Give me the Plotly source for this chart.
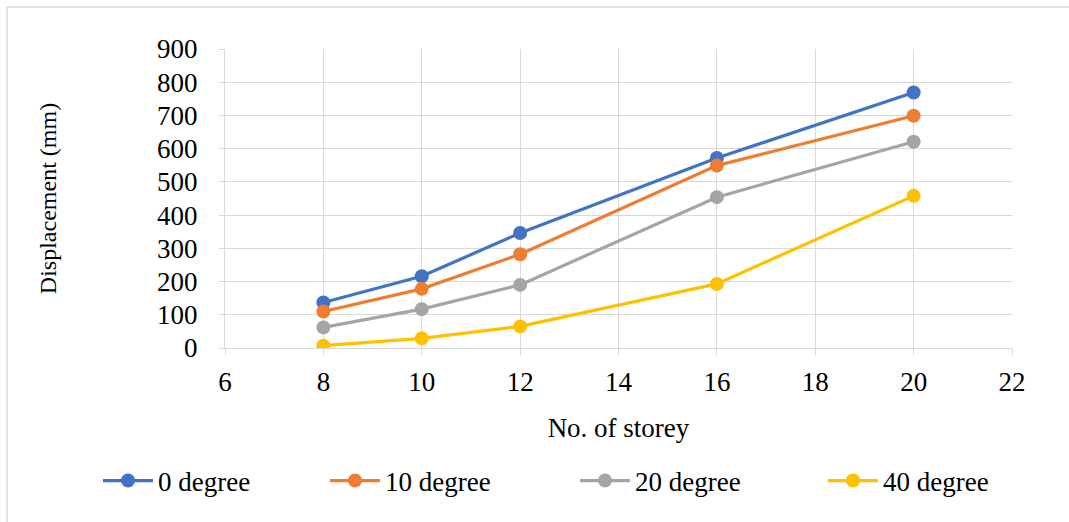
import plotly.graph_objects as go

# Storey counts and roof displacement (mm) for each inclination angle
storeys = [8, 10, 12, 16, 20]
disp_0deg = [137, 216, 346, 572, 769]
disp_10deg = [110, 178, 282, 549, 699]
disp_20deg = [62, 117, 190, 454, 621]
disp_40deg = [7, 29, 65, 193, 458]

series_names = ["0 degree", "10 degree", "20 degree", "40 degree"]
series_values = [disp_0deg, disp_10deg, disp_20deg, disp_40deg]
series_colors = ["#4472C4", "#ED7D31", "#A5A5A5", "#FFC000"]

y_ticks = [0, 100, 200, 300, 400, 500, 600, 700, 800, 900]
x_ticks = [6, 8, 10, 12, 14, 16, 18, 20, 22]

font_family = "Liberation Serif"
grid = "#D9D9D9"
txt = 27

# one legend box per series so the entries sit on a single row
legend_ids = ["legend", "legend2", "legend3", "legend4"]
legend_left_px = [98, 325, 575, 823]

fig = go.Figure()
for name, vals, col, lid in zip(series_names, series_values, series_colors, legend_ids):
    fig.add_trace(go.Scatter(
        x=storeys, y=vals, name=name, mode="lines+markers",
        line=dict(color=col, width=3.2),
        marker=dict(color=col, size=14),
        legend=lid,
    ))

legend_layout = {}
for lid, px in zip(legend_ids, legend_left_px):
    legend_layout[lid] = dict(
        orientation="h", xref="container", yref="container",
        x=px / 1069, xanchor="left", y=41 / 522, yanchor="middle",
        font=dict(family=font_family, size=txt),
        itemwidth=50, bgcolor="rgba(0,0,0,0)",
    )

fig.update_layout(
    width=1069, height=522,
    margin=dict(l=225, r=57, t=49, b=174, autoexpand=False),
    paper_bgcolor="white", plot_bgcolor="white",
    font=dict(family=font_family, size=txt, color="black"),
    showlegend=True,
    xaxis=dict(
        range=[6, 22], tickvals=x_ticks, showgrid=True, gridcolor=grid, gridwidth=1,
        showline=True, linecolor=grid, linewidth=1,
        ticks="outside", ticklen=6, tickcolor=grid, zeroline=False,
        ticklabelstandoff=4, automargin=False,
        tickfont=dict(family=font_family, size=txt),
        title=dict(text="No. of storey", font=dict(family=font_family, size=txt), standoff=21),
    ),
    yaxis=dict(
        range=[0, 900], tickvals=y_ticks, showgrid=True, gridcolor=grid, gridwidth=1,
        showline=True, linecolor=grid, linewidth=1,
        ticks="outside", ticklen=5, tickcolor=grid, zeroline=False,
        ticklabelstandoff=16, automargin=False,
        tickfont=dict(family=font_family, size=txt),
        title=dict(text="Displacement (mm)", font=dict(family=font_family, size=24), standoff=93),
    ),
    shapes=[
        # outer chart frame (top and left edges)
        dict(type="line", xref="paper", yref="paper", x0=-0.277, x1=1.08, y0=1.1405, y1=1.1405,
             line=dict(color="#D9D9D9", width=1.5)),
        dict(type="line", xref="paper", yref="paper", x0=-0.277, x1=-0.277, y0=1.1405, y1=-0.6,
             line=dict(color="#D9D9D9", width=1.5)),
    ],
    **legend_layout,
)

fig.write_html("out.html")
